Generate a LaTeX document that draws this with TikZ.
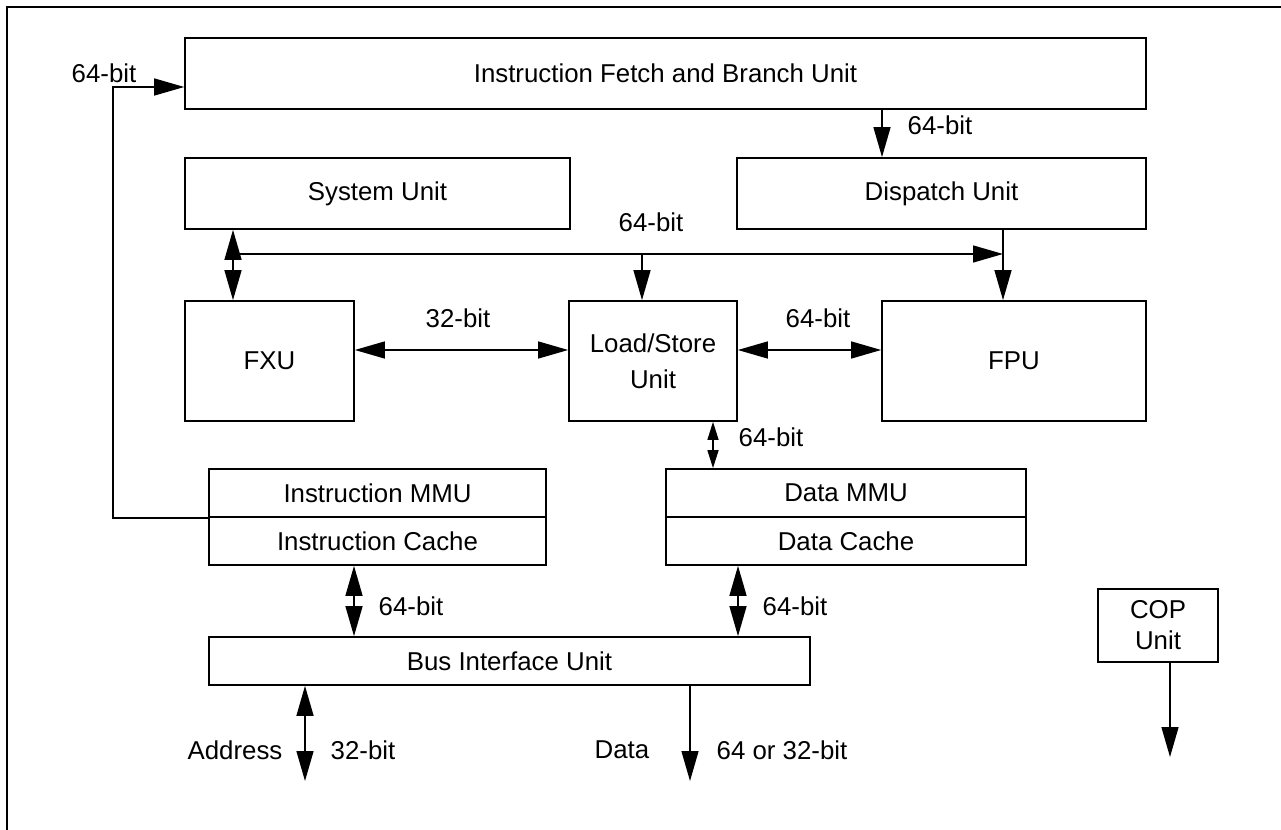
\documentclass[tikz,border=0pt]{standalone}
\usepackage{fontspec}
\setmainfont{Liberation Sans}
\usetikzlibrary{arrows.meta,calc}
\begin{document}
\begin{tikzpicture}[x=0.02cm,y=-0.02cm,
  every node/.style={font=\fontsize{14.7}{17.6}\selectfont},
  unitbox/.style={draw, line width=1pt, inner sep=0pt, align=center},
  lbl/.style={inner sep=0pt},
  conn/.style={line width=0.8pt},
  arr/.style={conn, -{Triangle[length=0.6cm,width=0.34cm]}},
  biarr/.style={conn, {Triangle[length=0.6cm,width=0.34cm]}-{Triangle[length=0.6cm,width=0.34cm]}},
  sbiarr/.style={conn, {Triangle[length=0.36cm,width=0.22cm]}-{Triangle[length=0.36cm,width=0.22cm]}},
]
\useasboundingbox (0,0) rectangle (1281,830);
% page frame
\draw[line width=1.2pt] (7,830) -- (7,7) -- (1281,7);

% functional units
\node[unitbox, minimum width=19.22cm, minimum height=1.42cm] (ifbu) at (665.5,73.5) {Instruction Fetch and Branch Unit};
\node[unitbox, minimum width=7.70cm, minimum height=1.42cm] (sys) at (377.5,193.5) {System Unit};
\node[unitbox, minimum width=8.18cm, minimum height=1.42cm] (disp) at (941.5,193.5) {Dispatch Unit};
\node[unitbox, minimum width=3.38cm, minimum height=2.40cm] (fxu) at (269.5,361) {FXU};
\node[unitbox, minimum width=3.36cm, minimum height=2.40cm, font=\fontsize{14.7}{20.4}\selectfont] (ls) at (653,361) {Load/Store\\Unit};
\node[unitbox, minimum width=5.28cm, minimum height=2.40cm] (fpu) at (1014,361) {FPU};
\node[unitbox, minimum width=6.74cm, minimum height=0.96cm] (immu) at (377.5,493) {Instruction MMU};
\node[unitbox, minimum width=6.74cm, minimum height=0.96cm] (icache) at (377.5,541) {Instruction Cache};
\node[unitbox, minimum width=7.20cm, minimum height=0.96cm] (dmmu) at (846,493) {Data MMU};
\node[unitbox, minimum width=7.20cm, minimum height=0.96cm] (dcache) at (846,541) {Data Cache};
\node[unitbox, minimum width=12.02cm, minimum height=0.96cm] (biu) at (509.5,661) {Bus Interface Unit};
\node[unitbox, minimum width=2.40cm, minimum height=1.46cm] (copu) at (1158,625.5) {COP\\Unit};

% instruction feedback path
\coordinate (fbc) at (113,87);
\draw[arr] (immu.south west) -| (fbc) -- (fbc -| ifbu.west);

% fetch to dispatch
\coordinate (dx) at (882,0);
\draw[arr] (ifbu.south -| dx) -- (disp.north -| dx);

% internal 64-bit bus
\coordinate (busL) at (233,254);
\coordinate (busR) at (1003,254);
\coordinate (busLS) at (642,254);
\draw[biarr] (sys.south -| busL) -- (fxu.north -| busL);
\draw[arr] (busL) -- (busR);
\draw[arr] (busLS) -- (ls.north -| busLS);
\draw[arr] (disp.south -| busR) -- (fpu.north -| busR);

% execution unit links
\coordinate (hy) at (0,350);
\draw[biarr] (fxu.east |- hy) -- (ls.west |- hy);
\draw[biarr] (ls.east |- hy) -- (fpu.west |- hy);
\coordinate (ldx) at (713,0);
\draw[sbiarr] (ls.south -| ldx) -- (dmmu.north -| ldx);

% caches to bus interface
\coordinate (icx) at (354,0);
\coordinate (dcx) at (738,0);
\draw[biarr] (icache.south -| icx) -- (biu.north -| icx);
\draw[biarr] (dcache.south -| dcx) -- (biu.north -| dcx);

% external connections
\coordinate (addr) at (305,781);
\draw[biarr] (biu.south -| addr) -- (addr);
\coordinate (dat) at (690,781);
\draw[arr] (biu.south -| dat) -- (dat);
\coordinate (cop) at (1170,757);
\draw[arr] (copu.south -| cop) -- (cop);

% width labels
\node[lbl] (l1) at (104,73) {64-bit};
\node[lbl] (l2) at (940,125) {64-bit};
\node[lbl] (l3) at (651,222) {64-bit};
\node[lbl] (l4) at (458,318) {32-bit};
\node[lbl] (l5) at (818,318) {64-bit};
\node[lbl] (l6) at (771,437) {64-bit};
\node[lbl] (l7) at (411,606) {64-bit};
\node[lbl] (l8) at (795,606) {64-bit};
\node[lbl] (l9) at (235,750) {Address};
\node[lbl] (l10) at (363,750) {32-bit};
\node[lbl] (l11) at (622,750) {Data};
\node[lbl] (l12) at (782,750) {64 or 32-bit};
\end{tikzpicture}
\end{document}
